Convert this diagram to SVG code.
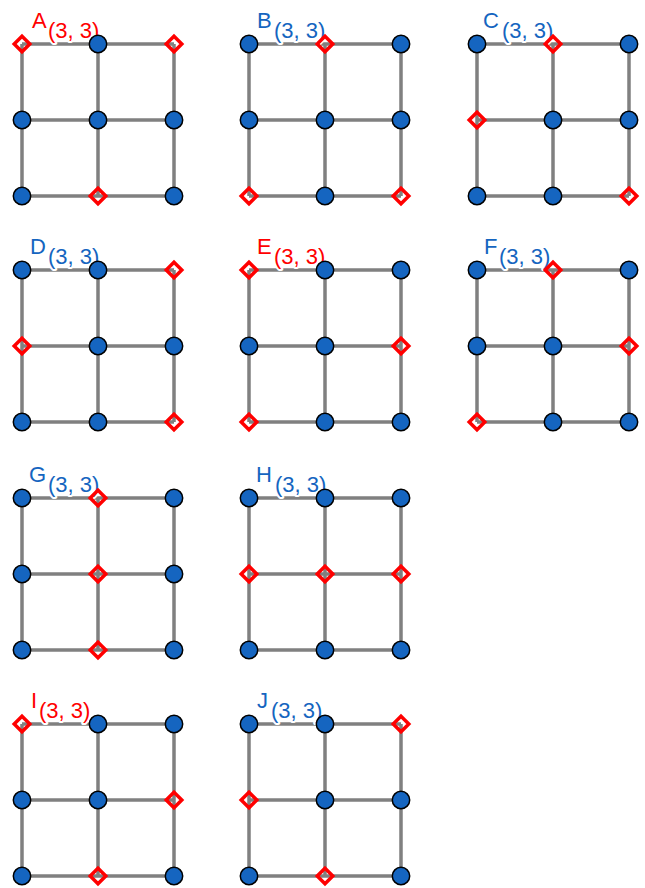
<svg xmlns="http://www.w3.org/2000/svg" width="645" height="888" viewBox="0 0 645 888">
<style>
.edge{stroke:#808080;stroke-width:3.5;fill:none;stroke-linecap:butt}
.dot{fill:#1565c0;stroke:#000;stroke-width:1.5}
.dia{fill:none;stroke:#ff0000;stroke-width:3.5}
.lbl{font-family:"Liberation Sans",Arial,sans-serif;font-size:22px}
.sub{font-family:"Liberation Sans",Arial,sans-serif;font-size:22px;stroke:#fff;stroke-width:4;paint-order:stroke;stroke-linejoin:round}
.red{fill:#ff0000}
.blue{fill:#1565c0}
</style>
<defs>
<g id="grid">
<path class="edge" d="M0 0H152M0 76H152M0 152H152M0 0V152M76 0V152M152 0V152"/>
</g>
<circle id="dot" class="dot" r="8.7"/>
<path id="dia" class="dia" d="M0 -7.8L7.8 0L0 7.8L-7.8 0Z"/>
</defs>
<g id="connectors">
<use href="#grid" transform="translate(22,44)"/>
<use href="#grid" transform="translate(249,44)"/>
<use href="#grid" transform="translate(477,44)"/>
<use href="#grid" transform="translate(22,270)"/>
<use href="#grid" transform="translate(249,270)"/>
<use href="#grid" transform="translate(477,270)"/>
<use href="#grid" transform="translate(22,498)"/>
<use href="#grid" transform="translate(249,498)"/>
<use href="#grid" transform="translate(22,724)"/>
<use href="#grid" transform="translate(249,724)"/>
</g>
<g id="panel-A" transform="translate(22,44)">
<text class="lbl red" x="10" y="-16">A</text><text class="sub red" x="26" y="-6">(3, 3)</text>
<use href="#dia" x="0" y="0"/><use href="#dot" x="76" y="0"/><use href="#dia" x="152" y="0"/>
<use href="#dot" x="0" y="76"/><use href="#dot" x="76" y="76"/><use href="#dot" x="152" y="76"/>
<use href="#dot" x="0" y="152"/><use href="#dia" x="76" y="152"/><use href="#dot" x="152" y="152"/>
</g>
<g id="panel-B" transform="translate(249,44)">
<text class="lbl blue" x="8" y="-16">B</text><text class="sub blue" x="25" y="-6">(3, 3)</text>
<use href="#dot" x="0" y="0"/><use href="#dia" x="76" y="0"/><use href="#dot" x="152" y="0"/>
<use href="#dot" x="0" y="76"/><use href="#dot" x="76" y="76"/><use href="#dot" x="152" y="76"/>
<use href="#dia" x="0" y="152"/><use href="#dot" x="76" y="152"/><use href="#dia" x="152" y="152"/>
</g>
<g id="panel-C" transform="translate(477,44)">
<text class="lbl blue" x="6" y="-16">C</text><text class="sub blue" x="25" y="-6">(3, 3)</text>
<use href="#dot" x="0" y="0"/><use href="#dia" x="76" y="0"/><use href="#dot" x="152" y="0"/>
<use href="#dia" x="0" y="76"/><use href="#dot" x="76" y="76"/><use href="#dot" x="152" y="76"/>
<use href="#dot" x="0" y="152"/><use href="#dot" x="76" y="152"/><use href="#dia" x="152" y="152"/>
</g>
<g id="panel-D" transform="translate(22,270)">
<text class="lbl blue" x="8" y="-16">D</text><text class="sub blue" x="26" y="-6">(3, 3)</text>
<use href="#dot" x="0" y="0"/><use href="#dot" x="76" y="0"/><use href="#dia" x="152" y="0"/>
<use href="#dia" x="0" y="76"/><use href="#dot" x="76" y="76"/><use href="#dot" x="152" y="76"/>
<use href="#dot" x="0" y="152"/><use href="#dot" x="76" y="152"/><use href="#dia" x="152" y="152"/>
</g>
<g id="panel-E" transform="translate(249,270)">
<text class="lbl red" x="8" y="-16">E</text><text class="sub red" x="25" y="-6">(3, 3)</text>
<use href="#dia" x="0" y="0"/><use href="#dot" x="76" y="0"/><use href="#dot" x="152" y="0"/>
<use href="#dot" x="0" y="76"/><use href="#dot" x="76" y="76"/><use href="#dia" x="152" y="76"/>
<use href="#dia" x="0" y="152"/><use href="#dot" x="76" y="152"/><use href="#dot" x="152" y="152"/>
</g>
<g id="panel-F" transform="translate(477,270)">
<text class="lbl blue" x="7" y="-16">F</text><text class="sub blue" x="22" y="-6">(3, 3)</text>
<use href="#dot" x="0" y="0"/><use href="#dia" x="76" y="0"/><use href="#dot" x="152" y="0"/>
<use href="#dot" x="0" y="76"/><use href="#dot" x="76" y="76"/><use href="#dia" x="152" y="76"/>
<use href="#dia" x="0" y="152"/><use href="#dot" x="76" y="152"/><use href="#dot" x="152" y="152"/>
</g>
<g id="panel-G" transform="translate(22,498)">
<text class="lbl blue" x="7" y="-16">G</text><text class="sub blue" x="26" y="-6">(3, 3)</text>
<use href="#dot" x="0" y="0"/><use href="#dia" x="76" y="0"/><use href="#dot" x="152" y="0"/>
<use href="#dot" x="0" y="76"/><use href="#dia" x="76" y="76"/><use href="#dot" x="152" y="76"/>
<use href="#dot" x="0" y="152"/><use href="#dia" x="76" y="152"/><use href="#dot" x="152" y="152"/>
</g>
<g id="panel-H" transform="translate(249,498)">
<text class="lbl blue" x="7" y="-16">H</text><text class="sub blue" x="26" y="-6">(3, 3)</text>
<use href="#dot" x="0" y="0"/><use href="#dot" x="76" y="0"/><use href="#dot" x="152" y="0"/>
<use href="#dia" x="0" y="76"/><use href="#dia" x="76" y="76"/><use href="#dia" x="152" y="76"/>
<use href="#dot" x="0" y="152"/><use href="#dot" x="76" y="152"/><use href="#dot" x="152" y="152"/>
</g>
<g id="panel-I" transform="translate(22,724)">
<text class="lbl red" x="9" y="-16">I</text><text class="sub red" x="17" y="-6">(3, 3)</text>
<use href="#dia" x="0" y="0"/><use href="#dot" x="76" y="0"/><use href="#dot" x="152" y="0"/>
<use href="#dot" x="0" y="76"/><use href="#dot" x="76" y="76"/><use href="#dia" x="152" y="76"/>
<use href="#dot" x="0" y="152"/><use href="#dia" x="76" y="152"/><use href="#dot" x="152" y="152"/>
</g>
<g id="panel-J" transform="translate(249,724)">
<text class="lbl blue" x="8" y="-16">J</text><text class="sub blue" x="22" y="-6">(3, 3)</text>
<use href="#dot" x="0" y="0"/><use href="#dot" x="76" y="0"/><use href="#dia" x="152" y="0"/>
<use href="#dia" x="0" y="76"/><use href="#dot" x="76" y="76"/><use href="#dot" x="152" y="76"/>
<use href="#dot" x="0" y="152"/><use href="#dia" x="76" y="152"/><use href="#dot" x="152" y="152"/>
</g>
</svg>
